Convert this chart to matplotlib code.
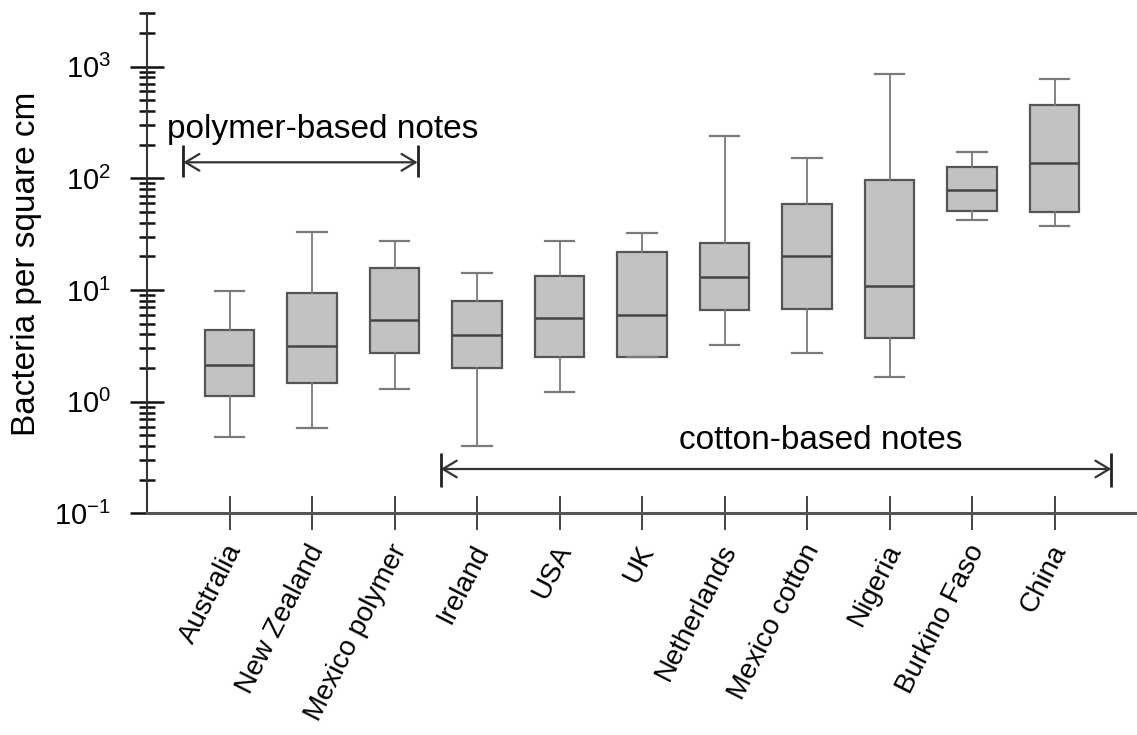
import matplotlib
matplotlib.use("Agg")
import matplotlib.pyplot as plt
from matplotlib.ticker import LogLocator, NullFormatter
from matplotlib.transforms import ScaledTranslation

plt.rcParams['font.family'] = ['Liberation Sans', 'DejaVu Sans']
plt.rcParams['axes.unicode_minus'] = False

countries = ['Australia', 'New Zealand', 'Mexico polymer', 'Ireland', 'USA', 'UK',
             'Netherlands', 'Mexico cotton', 'Nigeria', 'Burkino Faso', 'China']
whis_lo = [0.48, 0.58, 1.30, 0.40, 1.22, 2.50, 3.24, 2.72, 1.67, 42.7, 37.2]
q1 = [1.13, 1.47, 2.71, 1.99, 2.50, 2.50, 6.6, 6.8, 3.72, 50.6, 49.4]
med = [2.15, 3.14, 5.34, 3.94, 5.58, 5.95, 13.1, 20.2, 10.9, 79, 136]
q3 = [4.36, 9.45, 15.7, 8.0, 13.4, 21.7, 26.4, 59.3, 96, 126, 457]
whis_hi = [9.7, 32.8, 27.5, 14.3, 27.7, 32.5, 239, 151, 858, 172, 772]

stats = []
for i in range(len(countries)):
    stats.append({'label': countries[i], 'whislo': whis_lo[i], 'q1': q1[i],
                  'med': med[i], 'q3': q3[i], 'whishi': whis_hi[i]})

fig = plt.figure(figsize=(11.37, 7.35), dpi=100)
ax = fig.add_axes([0.1293, 0.3014, 0.8707, 0.6806])

pos = list(range(1, len(countries) + 1))
ax.bxp(stats, positions=pos, widths=0.6, capwidths=0.36, showfliers=False,
       patch_artist=True,
       boxprops=dict(facecolor='#c2c2c2', edgecolor='#555555', linewidth=1.6),
       medianprops=dict(color='#454545', linewidth=1.8),
       whiskerprops=dict(color='#7a7a7a', linewidth=1.3),
       capprops=dict(color='#7a7a7a', linewidth=1.6))

ax.set_yscale('log')
ax.set_ylim(0.1, 3000)
ax.set_xlim(0, 12)

ax.spines['top'].set_visible(False)
ax.spines['right'].set_visible(False)
ax.spines['left'].set_color('#333333')
ax.spines['bottom'].set_color('#555555')
ax.spines['left'].set_linewidth(1.5)
ax.spines['bottom'].set_linewidth(2.2)

ax.yaxis.set_major_locator(LogLocator(base=10, numticks=10))
ax.yaxis.set_minor_locator(LogLocator(base=10, subs=range(2, 10), numticks=20))
ax.yaxis.set_minor_formatter(NullFormatter())
ax.tick_params(axis='y', which='major', direction='inout', length=24, width=1.8,
               labelsize=21, pad=14, color='#111111')
ax.tick_params(axis='y', which='minor', direction='inout', length=12, width=1.8,
               color='#111111')

ax.set_xticks(pos)
ax.set_xticklabels(countries, rotation=63, ha='right', va='center',
                   rotation_mode='anchor')
ax.tick_params(axis='x', which='major', direction='inout', length=25, width=1.1,
               labelsize=20, pad=11, color='#111111')
for lab in ax.get_xticklabels():
    lab.set_transform(lab.get_transform() + ScaledTranslation(6 / 100, 0, fig.dpi_scale_trans))

ax.set_ylabel('Bacteria per square cm', fontsize=24)
ax.yaxis.set_label_coords(-0.106, 0.5)

# polymer / cotton ranges
ax.annotate('', xy=(0.44, 139), xytext=(3.28, 139),
            arrowprops=dict(arrowstyle='<->, head_length=0.5, head_width=0.3',
                            color='#333333', lw=1.6, shrinkA=0, shrinkB=0,
                            mutation_scale=20))
ax.vlines([0.44, 3.28], 102, 197, color='#222222', lw=2)
ax.text(2.13, 228, 'polymer-based notes', fontsize=24, ha='center', va='baseline')

ax.annotate('', xy=(3.56, 0.25), xytext=(11.69, 0.25),
            arrowprops=dict(arrowstyle='<->, head_length=0.5, head_width=0.3',
                            color='#333333', lw=1.6, shrinkA=0, shrinkB=0,
                            mutation_scale=20))
ax.vlines([3.56, 11.69], 0.172, 0.345, color='#222222', lw=2)
ax.text(8.17, 0.376, 'cotton-based notes', fontsize=24, ha='center', va='baseline')

fig.savefig('out.png', dpi=100)
